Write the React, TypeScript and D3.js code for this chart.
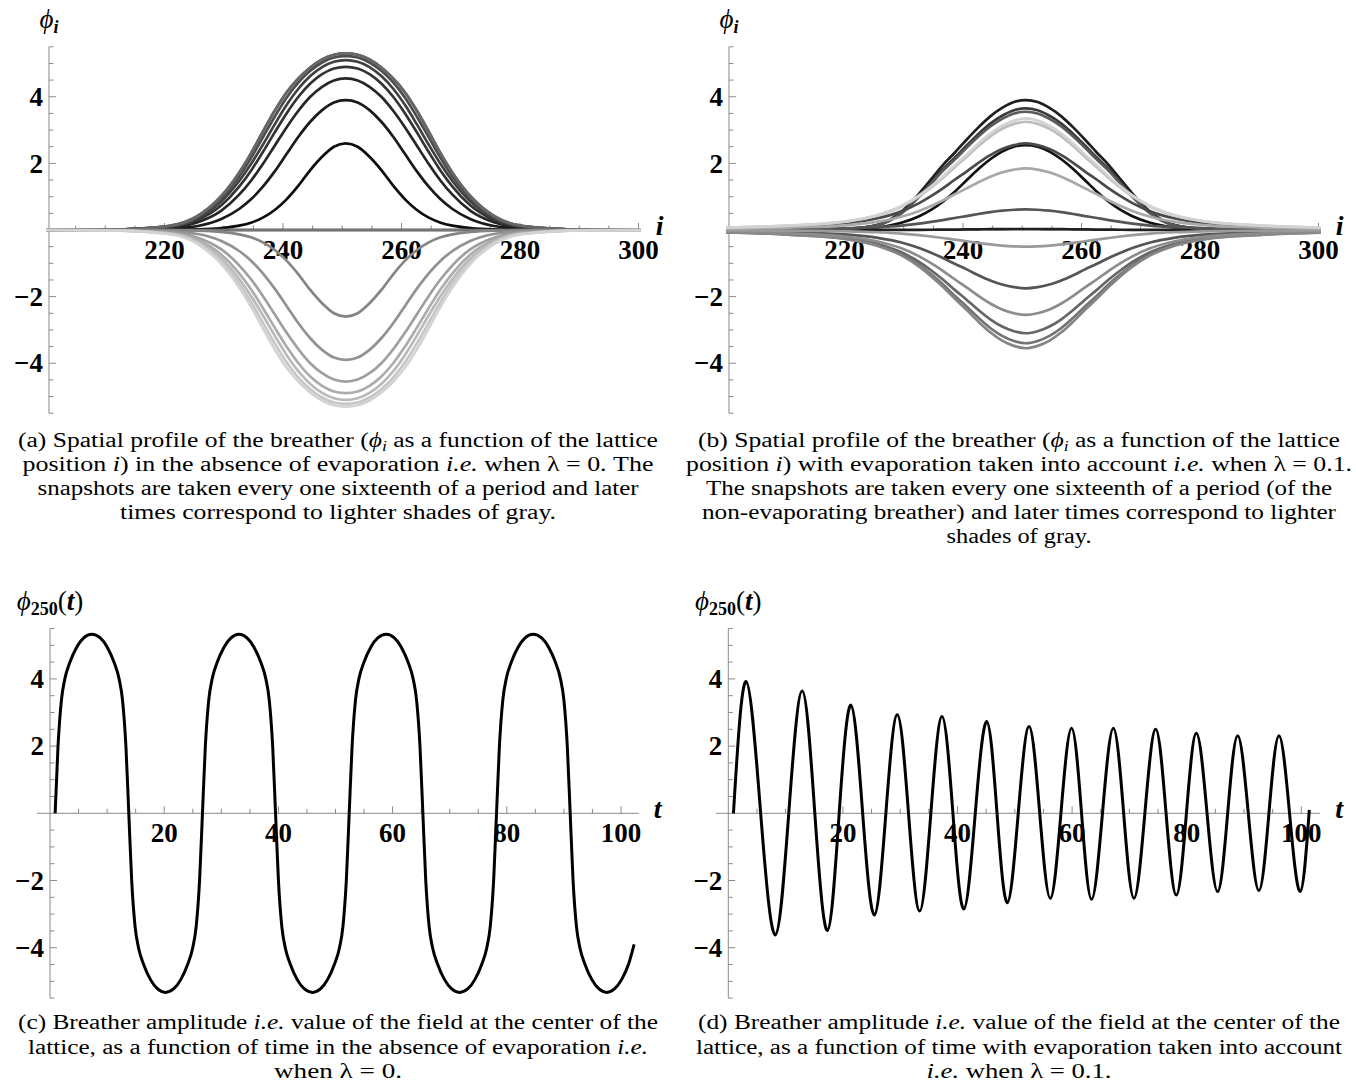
import React from 'react';
import * as d3 from 'd3';

// ---------- data ----------

// sites measured from the breather centre
const profileOffsets = [0, 2, 4, 6, 8, 10, 12, 14, 16, 18, 21, 25, 30, 40, 51];
const profileCentre = 250.6;

// (a) lambda = 0: distinct profile levels phi(centre +/- offset)
const levelsA = [
  [0, 0, 0, 0, 0, 0, 0, 0, 0, 0, 0, 0, 0, 0, 0],
  [2.6, 2.5, 2.2, 1.8, 1.33, 0.92, 0.6, 0.37, 0.22, 0.13, 0.06, 0.02, 0.006, 0.001, 0],
  [3.9, 3.83, 3.6, 3.25, 2.8, 2.28, 1.76, 1.3, 0.92, 0.63, 0.33, 0.12, 0.04, 0.005, 0],
  [4.55, 4.49, 4.3, 4.0, 3.58, 3.08, 2.53, 1.98, 1.48, 1.06, 0.58, 0.23, 0.07, 0.008, 0],
  [4.9, 4.85, 4.68, 4.4, 4.0, 3.5, 2.93, 2.34, 1.78, 1.3, 0.74, 0.3, 0.09, 0.01, 0],
  [5.1, 5.05, 4.89, 4.62, 4.24, 3.75, 3.17, 2.56, 1.98, 1.47, 0.86, 0.35, 0.1, 0.01, 0],
  [5.22, 5.18, 5.03, 4.78, 4.43, 3.97, 3.4, 2.78, 2.16, 1.61, 0.95, 0.39, 0.11, 0.012, 0],
  [5.3, 5.26, 5.12, 4.88, 4.55, 4.13, 3.58, 2.95, 2.3, 1.72, 1.02, 0.42, 0.12, 0.013, 0],
];
// snapshots every T/16 in time order: which level, which sign
const snapLevelA = [0, 1, 2, 3, 4, 5, 6, 7, 7, 0, 1, 2, 3, 4, 5, 6, 7];
const snapSignA = [1, 1, 1, 1, 1, 1, 1, 1, 1, -1, -1, -1, -1, -1, -1, -1, -1];
const snapGraysA = ['#000000', '#0d0d0d', '#1a1a1a', '#262626', '#333333', '#404040', '#4d4d4d', '#5a5a5a', '#676767', '#747474', '#858585', '#929292', '#9f9f9f', '#acacac', '#b9b9b9', '#c6c6c6', '#d3d3d3'];

// (b) lambda = 0.1: normalised profiles phi / phi(centre)
const coreShape = [1, 0.982, 0.923, 0.833, 0.718, 0.585, 0.451, 0.333, 0.236, 0.162, 0.085, 0.031, 0.01, 0.001, 0];
const darkShape = [1, 0.985, 0.94, 0.875, 0.79, 0.695, 0.595, 0.5, 0.39, 0.28, 0.14, 0.04, 0.01, 0.001, 0];
const tailShape = [1, 0.98, 0.935, 0.865, 0.775, 0.675, 0.58, 0.48, 0.39, 0.31, 0.215, 0.135, 0.08, 0.04, 0.02];
const snapAmpsB = [0.03, 2.55, 3.9, 3.65, 3.55, 2.6, 0.62, -1.75, -3.1, -3.4, -3.55, -2.55, -0.5, 1.85, 3.25, 3.35];
const snapShapesB = ['core', 'core', 'dark', 'dark', 'dark', 'tail', 'tail', 'tail', 'tail', 'tail', 'tail', 'tail', 'tail', 'tail', 'tail', 'tail'];
const snapGraysB = ['#202020', '#111111', '#1e1e1e', '#3a3a3a', '#5a5a5a', '#4a4a4a', '#555555', '#555555', '#666666', '#747474', '#858585', '#8c8c8c', '#9a9a9a', '#a9a9a9', '#bdbdbd', '#d3d3d3'];

// (c) phi_250(t), lambda = 0
const tC = [
  0.9, 1.4, 2.0, 2.6, 3.5, 4.7, 5.9, 7.3, 8.8, 10.0, 11.2, 12.1, 12.7, 13.3, 13.8,
  14.3, 14.9, 15.5, 16.4, 17.6, 18.8, 20.2, 21.7, 22.9, 24.1, 25.0, 25.6, 26.2, 26.7,
  27.2, 27.8, 28.4, 29.3, 30.5, 31.7, 33.1, 34.5, 35.7, 36.9, 37.8, 38.4, 39.0, 39.5,
  40.0, 40.6, 41.2, 42.1, 43.3, 44.5, 46.0, 47.4, 48.6, 49.8, 50.7, 51.3, 51.9, 52.4,
  52.9, 53.5, 54.1, 55.0, 56.2, 57.4, 58.9, 60.3, 61.5, 62.7, 63.6, 64.2, 64.8, 65.3,
  65.8, 66.4, 67.0, 67.9, 69.1, 70.3, 71.7, 73.2, 74.4, 75.6, 76.5, 77.1, 77.7, 78.2,
  78.7, 79.3, 79.9, 80.8, 82.0, 83.2, 84.6, 86.1, 87.3, 88.5, 89.4, 90.0, 90.6, 91.1,
  91.6, 92.2, 92.8, 93.7, 94.9, 96.1, 97.5, 98.9, 100.1, 101.3, 102.3,
];
const phiC = [
  0, 1.98, 3.37, 4.0, 4.5, 4.95, 5.22, 5.33, 5.22, 4.95, 4.5, 4.0, 3.37, 1.98, 0,
  -1.98, -3.37, -4.0, -4.5, -4.95, -5.22, -5.33, -5.22, -4.95, -4.5, -4.0, -3.37, -1.98, 0,
  1.98, 3.37, 4.0, 4.5, 4.95, 5.22, 5.33, 5.22, 4.95, 4.5, 4.0, 3.37, 1.98, 0,
  -1.98, -3.37, -4.0, -4.5, -4.95, -5.22, -5.33, -5.22, -4.95, -4.5, -4.0, -3.37, -1.98, 0,
  1.98, 3.37, 4.0, 4.5, 4.95, 5.22, 5.33, 5.22, 4.95, 4.5, 4.0, 3.37, 1.98, 0,
  -1.98, -3.37, -4.0, -4.5, -4.95, -5.22, -5.33, -5.22, -4.95, -4.5, -4.0, -3.37, -1.98, 0,
  1.98, 3.37, 4.0, 4.5, 4.95, 5.22, 5.33, 5.22, 4.95, 4.5, 4.0, 3.37, 1.98, 0,
  -1.98, -3.37, -4.0, -4.5, -4.95, -5.22, -5.33, -5.22, -4.95, -4.5, -3.9,
];

// (d) phi_250(t), lambda = 0.1 (crossings and extrema)
const tD = [
  0.9, 3.1, 5.65, 8.2, 10.55, 12.9, 15.1, 17.3, 19.35, 21.4, 23.45, 25.5, 27.5, 29.5, 31.45, 33.4,
  35.35, 37.3, 39.2, 41.1, 43.1, 45.1, 46.9, 48.7, 50.6, 52.5, 54.35, 56.2, 58.05, 59.9, 61.65, 63.4,
  65.3, 67.2, 69.0, 70.8, 72.7, 74.6, 76.4, 78.2, 79.95, 81.7, 83.55, 85.4, 87.15, 88.9, 90.75, 92.6,
  94.35, 96.1, 97.95, 99.8, 101.4,
];
const phiD = [
  0, 3.92, 0, -3.62, 0, 3.64, 0, -3.49, 0, 3.22, 0, -3.03, 0, 2.93, 0, -2.91,
  0, 2.88, 0, -2.85, 0, 2.73, 0, -2.66, 0, 2.58, 0, -2.53, 0, 2.53, 0, -2.56,
  0, 2.53, 0, -2.53, 0, 2.5, 0, -2.43, 0, 2.38, 0, -2.33, 0, 2.31, 0, -2.3,
  0, 2.31, 0, -2.33, 0.1,
];

const phiTicks = [-4, -2, 2, 4];
const siteTicks = [220, 240, 260, 280, 300];
const timeTicks = [20, 40, 60, 80, 100];

// ---------- captions ----------
type Seg = [string, string?];
const captionA: Seg[][] = [
  [['(a) Spatial profile of the breather ('], ['\u03D5', 'i'], ['i', 's'], [' as a function of the lattice']],
  [['position '], ['i', 'i'], [') in the absence of evaporation '], ['i.e.', 'i'], [' when \u03BB = 0. The']],
  [['snapshots are taken every one sixteenth of a period and later']],
  [['times correspond to lighter shades of gray.']],
];
const captionB: Seg[][] = [
  [['(b) Spatial profile of the breather ('], ['\u03D5', 'i'], ['i', 's'], [' as a function of the lattice']],
  [['position '], ['i', 'i'], [') with evaporation taken into account '], ['i.e.', 'i'], [' when \u03BB = 0.1.']],
  [['The snapshots are taken every one sixteenth of a period (of the']],
  [['non-evaporating breather) and later times correspond to lighter']],
  [['shades of gray.']],
];
const captionC: Seg[][] = [
  [['(c) Breather amplitude '], ['i.e.', 'i'], [' value of the field at the center of the']],
  [['lattice, as a function of time in the absence of evaporation '], ['i.e.', 'i']],
  [['when \u03BB = 0.']],
];
const captionD: Seg[][] = [
  [['(d) Breather amplitude '], ['i.e.', 'i'], [' value of the field at the center of the']],
  [['lattice, as a function of time with evaporation taken into account']],
  [['i.e.', 'i'], [' when \u03BB = 0.1.']],
];
const widthsA = [640, 631, 601, 436];
const widthsB = [642, 666, 626, 634, 145];
const widthsC = [640, 620, 128];
const widthsD = [642, 646, 185];

const SERIF = 'Liberation Serif, Times New Roman, serif';
const AXIS = '#8a8a8a';
const shapesB: Record<string, number[]> = { core: coreShape, dark: darkShape, tail: tailShape };

const fmt = (v: number) => (v < 0 ? '\u2212' + Math.abs(v) : String(v));

// mirror a half profile around the centre site
const profilePoints = (half: number[]): [number, number][] => {
  const pts: [number, number][] = [];
  for (let j = profileOffsets.length - 1; j > 0; j--) pts.push([profileCentre - profileOffsets[j], half[j]]);
  pts.push([profileCentre, half[0]]);
  for (let j = 1; j < profileOffsets.length; j++) pts.push([profileCentre + profileOffsets[j], half[j]]);
  return pts;
};

const Frame = ({ x, y, originX, xLo, xHi, major, minor, name, label }: any) => {
  const ax = x(originX);
  const ay = y(0);
  const yMinor = d3.range(-5.5, 5.51, 0.5).filter((v) => v !== 0 && !phiTicks.includes(v));
  return (
    <g>
      <line x1={x(xLo)} x2={x(xHi)} y1={ay} y2={ay} stroke={AXIS} strokeWidth={1} />
      <line x1={ax} x2={ax} y1={y(-5.5)} y2={y(5.5)} stroke={AXIS} strokeWidth={1} />
      {yMinor.map((v) => (
        <line key={'ym' + v} x1={ax} x2={ax + 4.5} y1={y(v)} y2={y(v)} stroke={AXIS} />
      ))}
      {phiTicks.map((v) => (
        <line key={'yM' + v} x1={ax} x2={ax + 7} y1={y(v)} y2={y(v)} stroke={AXIS} />
      ))}
      {minor.map((v: number) => (
        <line key={'xm' + v} x1={x(v)} x2={x(v)} y1={ay} y2={ay - 4.5} stroke={AXIS} />
      ))}
      {major.map((v: number) => (
        <line key={'xM' + v} x1={x(v)} x2={x(v)} y1={ay} y2={ay - 7} stroke={AXIS} />
      ))}
      <g style={{ fontFamily: SERIF }} fontWeight="bold" fontSize={27} fill="#000">
        {phiTicks.map((v) => (
          <text key={'yl' + v} x={ax - 6} y={y(v)} dy="0.34em" textAnchor="end">{fmt(v)}</text>
        ))}
        {major.map((v: number) => (
          <text key={'xl' + v} x={x(v)} y={ay + 29} textAnchor="middle">{fmt(v)}</text>
        ))}
        <text x={x(xHi) + 15} y={ay + 5} fontStyle="italic" fontSize={28}>{name}</text>
      </g>
      <text x={ax} y={y(5.5) - 19} textAnchor="middle" style={{ fontFamily: SERIF }} fontSize={27} fill="#000">{label}</text>
    </g>
  );
};

const Caption = ({ lines, widths, cx, top, step }: { lines: Seg[][]; widths: number[]; cx: number; top: number; step: number }) => (
  <g style={{ fontFamily: SERIF }} fontSize={20.5} fill="#000">
    {lines.map((segs, k) => (
      <text key={k} x={cx} y={top + k * step} textAnchor="middle" textLength={widths[k]} lengthAdjust="spacingAndGlyphs">
        {segs.map(([s, st], j) => {
          const prevSub = j > 0 && segs[j - 1][1] === 's';
          if (st === 's') return <tspan key={j} fontStyle="italic" fontSize={14} dy={4}>{s}</tspan>;
          return (
            <tspan key={j} fontStyle={st === 'i' ? 'italic' : 'normal'} dy={prevSub ? -4 : 0}>{s}</tspan>
          );
        })}
      </text>
    ))}
  </g>
);

const App = () => {
  const yProf = d3.scaleLinear().domain([-5.5, 5.5]).range([413.2, 46.8]);
  const xA = d3.scaleLinear().domain([200, 300]).range([46, 638.5]);
  const xB = d3.scaleLinear().domain([200, 300]).range([726, 1318.5]);
  const yTime = d3.scaleLinear().domain([-5.5, 5.5]).range([998.1, 628.5]);
  const xC = d3.scaleLinear().domain([0, 100]).range([50, 621]);
  const xD = d3.scaleLinear().domain([0, 100]).range([728.3, 1301.3]);

  const lineA = d3.line<[number, number]>().x((d) => xA(d[0])).y((d) => yProf(d[1])).curve(d3.curveMonotoneX);
  const lineB = d3.line<[number, number]>().x((d) => xB(d[0])).y((d) => yProf(d[1])).curve(d3.curveMonotoneX);
  const lineC = d3.line<number>().x((d) => xC(d)).y((d, i) => yTime(phiC[i])).curve(d3.curveMonotoneX);
  const lineD = d3.line<number>().x((d) => xD(d)).y((d, i) => yTime(phiD[i])).curve(d3.curveNatural);

  const siteMinor = d3.range(205, 300.1, 5).filter((v) => !siteTicks.includes(v));
  const timeMinor = d3.range(5, 100.1, 5).filter((v) => !timeTicks.includes(v));

  const phiI = (
    <>
      <tspan fontStyle="italic">{'\u03D5'}</tspan>
      <tspan fontStyle="italic" fontWeight="bold" fontSize={18} dy={5}>i</tspan>
    </>
  );
  const phiT = (
    <>
      <tspan fontStyle="italic">{'\u03D5'}</tspan>
      <tspan fontWeight="bold" fontSize={18} dy={5}>250</tspan>
      <tspan dy={-5}>(</tspan>
      <tspan fontStyle="italic" fontWeight="bold">t</tspan>
      <tspan>)</tspan>
    </>
  );

  return (
    <svg width={1356} height={1084} style={{ position: 'absolute', left: 0, top: 0, background: '#fff' }}>
      <defs>
        <clipPath id="clipA"><rect x={xA(200)} y={0} width={xA(300.4) - xA(200)} height={440} /></clipPath>
        <clipPath id="clipB"><rect x={xB(200)} y={0} width={xB(300.4) - xB(200)} height={440} /></clipPath>
      </defs>

      <Frame x={xA} y={yProf} originX={200.5} xLo={200} xHi={300.4} major={siteTicks} minor={siteMinor} name="i" label={phiI} />
      <g clipPath="url(#clipA)" fill="none" strokeWidth={2.7}>
        {snapLevelA.map((lv, k) => (
          <path key={k} d={lineA(profilePoints(levelsA[lv].map((v) => v * snapSignA[k]))) || ''} stroke={snapGraysA[k]} />
        ))}
      </g>

      <Frame x={xB} y={yProf} originX={200.5} xLo={200} xHi={300.4} major={siteTicks} minor={siteMinor} name="i" label={phiI} />
      <g clipPath="url(#clipB)" fill="none" strokeWidth={2.7}>
        {snapAmpsB.map((a, k) => (
          <path key={k} d={lineB(profilePoints(shapesB[snapShapesB[k]].map((v) => v * a))) || ''} stroke={snapGraysB[k]} />
        ))}
      </g>

      <Frame x={xC} y={yTime} originX={0} xLo={-2.3} xHi={103.1} major={timeTicks} minor={timeMinor} name="t" label={phiT} />
      <path d={lineC(tC) || ''} fill="none" stroke="#000" strokeWidth={3} />

      <Frame x={xD} y={yTime} originX={0} xLo={-2.2} xHi={103.3} major={timeTicks} minor={timeMinor} name="t" label={phiT} />
      <path d={lineD(tD) || ''} fill="none" stroke="#000" strokeWidth={3} />

      <Caption lines={captionA} widths={widthsA} cx={338} top={447} step={24} />
      <Caption lines={captionB} widths={widthsB} cx={1019} top={447} step={24} />
      <Caption lines={captionC} widths={widthsC} cx={338} top={1029} step={24.5} />
      <Caption lines={captionD} widths={widthsD} cx={1019} top={1029} step={24.5} />
    </svg>
  );
};

export default App;
